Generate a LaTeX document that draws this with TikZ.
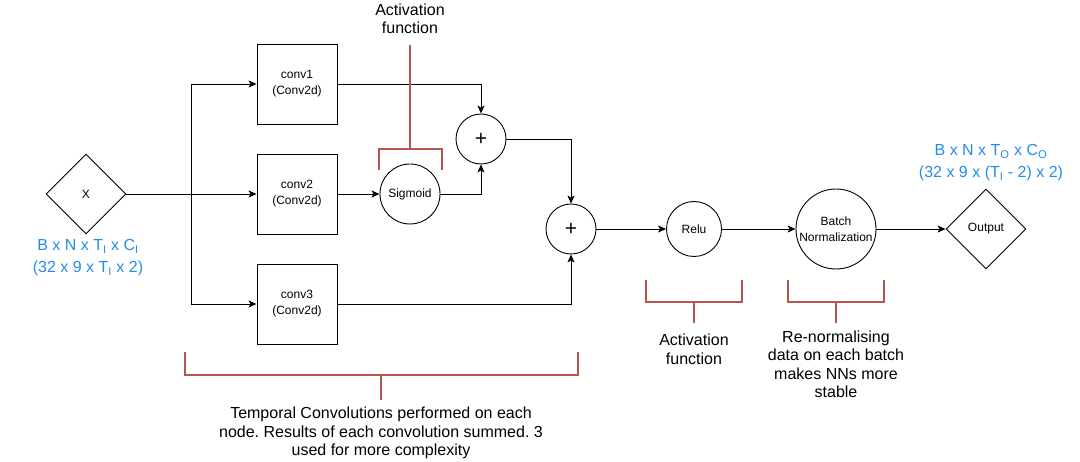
\documentclass[tikz,border=0pt]{standalone}
\usepackage{fontspec}
\setmainfont{Liberation Sans}
\frenchspacing
\usetikzlibrary{shapes.geometric,arrows.meta}
\definecolor{brk}{HTML}{B85450}
\definecolor{dimblue}{HTML}{238CEB}
\tikzset{
  base/.style={draw=black, line width=0.9pt, inner sep=0pt, align=center, font=\fontsize{12}{16}\selectfont},
  convbox/.style={base, rectangle, minimum width=80pt, minimum height=80pt},
  term/.style={base, diamond, minimum width=80pt, minimum height=80pt, aspect=1},
  op/.style={base, circle},
  plus/.style={op, minimum size=50pt, font=\fontsize{21}{22}\selectfont},
  flow/.style={draw=black, line width=0.9pt, -{Stealth[length=8pt,width=7pt,inset=2pt]}},
  bracket/.style={draw=brk, line width=1.8pt},
  note/.style={align=center, inner sep=0pt, font=\fontsize{16}{18.5}\selectfont},
  dims/.style={align=center, inner sep=0pt, text=dimblue, font=\fontsize{16}{22}\selectfont}
}
\begin{document}
\begin{tikzpicture}[x=1pt, y=-1pt]
\useasboundingbox (0,0) rectangle (1080,462);
% nodes
\node[term] (X) at (86,194) {X};
\node[convbox] (c1) at (297,84) {conv1\\(Conv2d)};
\node[convbox] (c2) at (297,194) {conv2\\(Conv2d)};
\node[convbox] (c3) at (297,304) {conv3\\(Conv2d)};
\node[op, minimum size=60pt] (sig) at (410,194) {Sigmoid};
\node[plus] (p1) at (481,139) {+};
\node[plus] (p2) at (571,229) {+};
\node[op, minimum size=55pt] (relu) at (694,229) {Relu};
\node[op, minimum size=80pt] (bn) at (836,229) {Batch\\Normalization};
\node[term] (out) at (986,229) {Output};
\coordinate (br) at (191,194);
% connectors
\draw[flow] (X.east) -- (c2.west);
\draw[flow] (br) |- (c1.west);
\draw[flow] (br) |- (c3.west);
\draw[flow] (c2.east) -- (sig.west);
\draw[flow] (c1.east) -| (p1.north);
\draw[flow] (sig.east) -| (p1.south);
\draw[flow] (p1.east) -| (p2.north);
\draw[flow] (c3.east) -| (p2.south);
\draw[flow] (p2.east) -- (relu.west);
\draw[flow] (relu.east) -- (bn.west);
\draw[flow] (bn.east) -- (out.west);
% dimension labels
\node[dims] (dimin) at (88,258) {B x N x T\textsubscript{I} x C\textsubscript{I}\\(32 x 9 x T\textsubscript{I} x 2)};
\node[dims] (dimout) at (991,163) {B x N x T\textsubscript{O} x C\textsubscript{O}\\(32 x 9 x (T\textsubscript{I} - 2) x 2)};
% brackets and notes
\draw[bracket] (379,170) -- (379,149) -- (442,149) -- (442,170);
\draw[bracket] (410,149) -- (410,45);
\node[note] (n1) at (410,19) {Activation\\function};
\draw[bracket] (185,352) -- (185,375) -- (578,375) -- (578,352);
\draw[bracket] (381,375) -- (381,400);
\node[note] (n2) at (381,433) {Temporal Convolutions performed on each\\node. Results of each convolution summed. 3\\used for more complexity};
\draw[bracket] (646,280) -- (646,302) -- (742,302) -- (742,280);
\draw[bracket] (694,302) -- (694,323);
\node[note] (n3) at (694,349.5) {Activation\\function};
\draw[bracket] (788,280) -- (788,302) -- (884,302) -- (884,280);
\draw[bracket] (836,302) -- (836,323);
\node[note] (n4) at (836,364.5) {Re-normalising\\data on each batch\\makes NNs more\\stable};
\end{tikzpicture}
\end{document}
